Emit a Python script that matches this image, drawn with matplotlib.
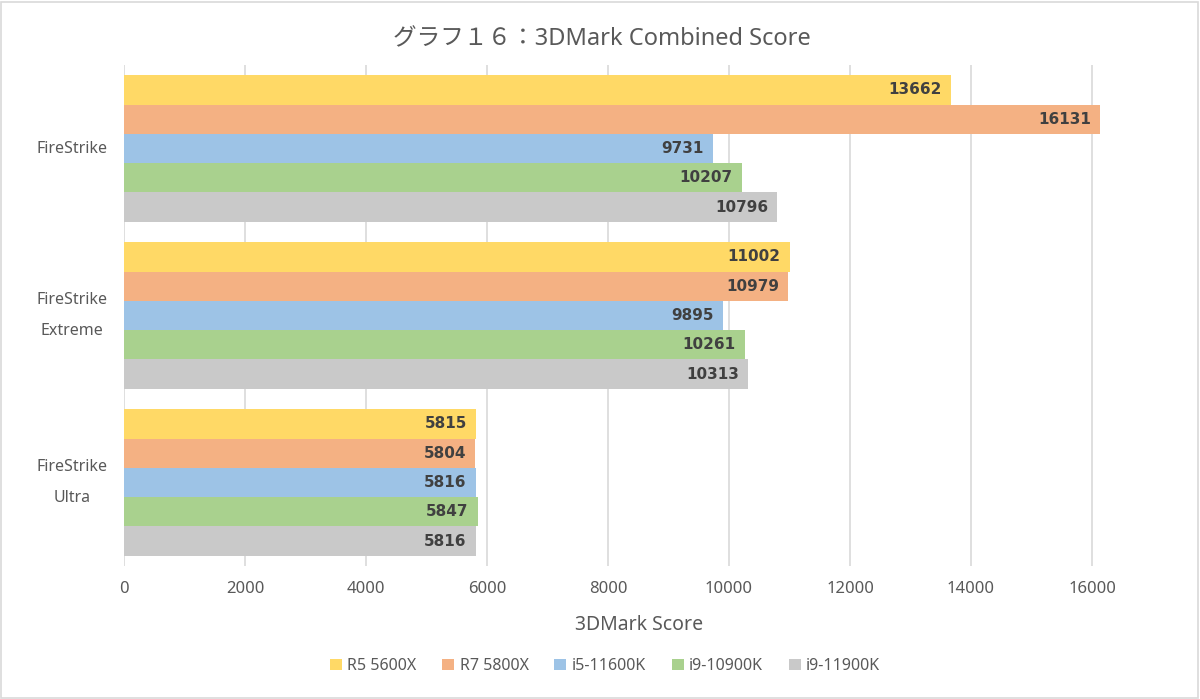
import matplotlib
matplotlib.use("Agg")
import matplotlib.pyplot as plt
from matplotlib.patches import Rectangle, Patch
from matplotlib.transforms import blended_transform_factory
import numpy as np

plt.rcParams['font.family'] = ['Noto Sans', 'Noto Sans CJK JP', 'DejaVu Sans']

categories = ["FireStrike", "FireStrike\nExtreme", "FireStrike\nUltra"]
series_names = ["R5 5600X", "R7 5800X", "i5-11600K", "i9-10900K", "i9-11900K"]
r5_5600x = [13662, 11002, 5815]
r7_5800x = [16131, 10979, 5804]
i5_11600k = [9731, 9895, 5816]
i9_10900k = [10207, 10261, 5847]
i9_11900k = [10796, 10313, 5816]
series_values = [r5_5600x, r7_5800x, i5_11600k, i9_10900k, i9_11900k]
colors = ["#FFD966", "#F4B183", "#9DC3E6", "#A9D18E", "#C9C9C9"]
x_ticks = [0, 2000, 4000, 6000, 8000, 10000, 12000, 14000, 16000]

W, H = 1200, 699
fig = plt.figure(figsize=(W / 100, H / 100), dpi=100)
fig.patches.append(Rectangle((1 / W, 1 / H), 1 - 3 / W, 1 - 3 / H, transform=fig.transFigure,
                             fill=False, edgecolor="#D9D9D9", linewidth=1.2))

x_max = 16200
left_px, zero_to_16k = 124, 1092 - 124
right_px = left_px + zero_to_16k * x_max / 16000
top_px, bottom_px = 65, 566
ax = fig.add_axes([left_px / W, 1 - bottom_px / H, (right_px - left_px) / W, (bottom_px - top_px) / H])

n_cat = len(categories)
n_ser = len(series_names)
bar_h = 0.877 / n_ser
ypos = np.arange(n_cat)
for i, (name, vals, c) in enumerate(zip(series_names, series_values, colors)):
    offs = (i - (n_ser - 1) / 2) * bar_h
    bars = ax.barh(ypos + offs, vals, height=bar_h, color=c, label=name, zorder=2)
    for b, v in zip(bars, vals):
        ax.text(v - 150, b.get_y() + b.get_height() / 2, f"{v}", ha="right", va="center",
                fontsize=11, fontweight="bold", color="#404040", family=["DejaVu Sans"], zorder=3)

ax.set_ylim(n_cat - 0.5, -0.5)
ax.set_xlim(0, x_max)
ax.set_xticks(x_ticks)
ax.set_xticklabels([str(t) for t in x_ticks], fontsize=12, color="#595959")
ax.set_yticks(ypos)
ax.set_yticklabels([])
trans = blended_transform_factory(fig.transFigure, ax.transData)
for y, cat in zip(ypos, categories):
    ax.text(72 / W, y + 0.002, cat, transform=trans, ha="center", va="center", fontsize=11.5,
            color="#595959", linespacing=2.25, multialignment="center")
ax.tick_params(axis="y", length=0)
ax.tick_params(axis="x", length=0, pad=11)
for s in ax.spines.values():
    s.set_visible(False)
ax.grid(axis="x", color="#D9D9D9", linewidth=1.2, zorder=0)
ax.set_axisbelow(True)

fig.text(639 / W, 1 - 625 / H, "3DMark Score", ha="center", va="center", fontsize=14, color="#595959")
fig.text(602 / W, 1 - 39 / H, "グラフ１６：3DMark Combined Score", ha="center", va="center",
         fontsize=17, color="#595959")

handles = [Patch(facecolor=c, edgecolor="none") for c in colors]
fig.legend(handles, series_names, loc="center", bbox_to_anchor=(605 / W, 1 - 666 / H), ncol=5,
           frameon=False, fontsize=11.5, handlelength=0.75, handleheight=0.75, handletextpad=0.35,
           columnspacing=1.6, labelcolor="#595959")

fig.savefig("out.png", dpi=100)
